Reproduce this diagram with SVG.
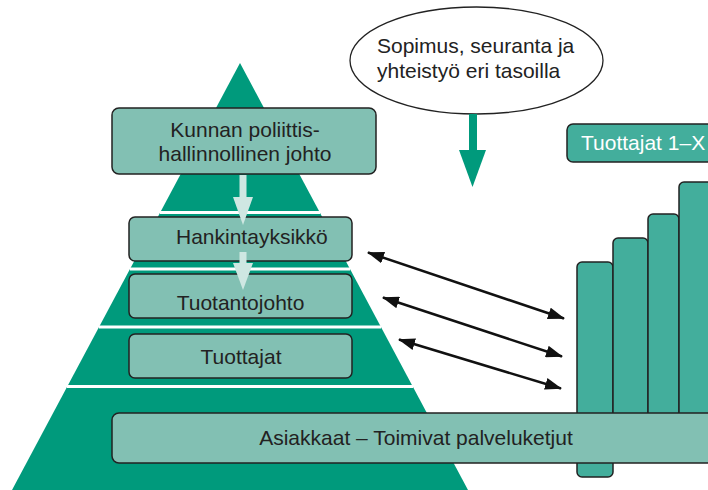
<svg xmlns="http://www.w3.org/2000/svg" width="708" height="490" viewBox="0 0 708 490">
<style>
.lt{fill:#82c0b3;stroke:#222;stroke-width:1.5}
.md{fill:#43ae9c;stroke:#222;stroke-width:1.5}
.t{font-family:"Liberation Sans",Arial,sans-serif;font-size:21px;fill:#222}
.sep{stroke:#fff;stroke-width:3}
.dbl{stroke:#111;stroke-width:2.5;fill:none;marker-start:url(#ah);marker-end:url(#ah)}
.pale{fill:#cfe7e2}
</style>
<defs>
<marker id="ah" viewBox="0 0 17 12" refX="16" refY="6" markerWidth="17" markerHeight="12" markerUnits="userSpaceOnUse" orient="auto-start-reverse">
<path d="M0,0 L17,6 L0,12 z" fill="#111"/>
</marker>
</defs>
<rect width="708" height="490" fill="#fff"/>
<g id="pyramid">
<polygon points="240,63 468,490 12,490" fill="#009a7c"/>
<line class="sep" x1="160" y1="212.5" x2="320" y2="212.5"/>
<line class="sep" x1="130" y1="269" x2="350" y2="269"/>
<line class="sep" x1="99" y1="327" x2="381" y2="327"/>
<line class="sep" x1="67" y1="386.5" x2="413" y2="386.5"/>
</g>
<g id="bars">
<rect class="md" x="577" y="262" width="36" height="215" rx="5"/>
<rect class="md" x="613" y="238" width="35" height="200" rx="5"/>
<rect class="md" x="648" y="214" width="31" height="220" rx="5"/>
<rect class="md" x="679" y="182" width="40" height="260" rx="5"/>
</g>
<g id="tuottajat-1x">
<rect class="md" x="567" y="124" width="150" height="38" rx="6"/>
<text class="t" x="581" y="150" style="fill:#fff">Tuottajat 1–X</text>
</g>
<g id="kunnan">
<rect class="lt" x="112" y="108" width="264" height="66" rx="7"/>
<text class="t" x="245" y="137" text-anchor="middle">Kunnan poliittis-</text>
<text class="t" x="245" y="161" text-anchor="middle">hallinnollinen johto</text>
</g>
<g id="hankinta">
<rect class="lt" x="129" y="217" width="223" height="44" rx="6"/>
<text class="t" x="176" y="244">Hankintayksikkö</text>
</g>
<g id="tuotantojohto">
<rect class="lt" x="129" y="274" width="223" height="44" rx="6"/>
<text class="t" x="240.5" y="310" text-anchor="middle">Tuotantojohto</text>
</g>
<g id="tuottajat">
<rect class="lt" x="129" y="334" width="223" height="44" rx="6"/>
<text class="t" x="241" y="364" text-anchor="middle">Tuottajat</text>
</g>
<g id="asiakkaat">
<rect class="lt" x="112" y="413" width="610" height="50" rx="7"/>
<text class="t" x="416" y="445" text-anchor="middle">Asiakkaat – Toimivat palveluketjut</text>
</g>
<g id="sopimus">
<ellipse cx="476.5" cy="60.5" rx="126.5" ry="53.5" fill="#fff" stroke="#222" stroke-width="1.3"/>
<text class="t" x="377" y="53">Sopimus, seuranta ja</text>
<text class="t" x="377" y="78">yhteistyö eri tasoilla</text>
</g>
<g id="connectors">
<rect class="pale" x="239.5" y="175" width="7" height="23"/>
<polygon class="pale" points="233,197 253,197 243,225"/>
<rect class="pale" x="239.5" y="252" width="7" height="12"/>
<polygon class="pale" points="233,263 253,263 243,290"/>
<rect x="469" y="114" width="8" height="37" fill="#009a7c"/>
<polygon points="459,150 486,150 472.5,187" fill="#009a7c"/>
<line class="dbl" x1="368" y1="252.5" x2="564" y2="318.5"/>
<line class="dbl" x1="383" y1="297.5" x2="562" y2="356.5"/>
<line class="dbl" x1="399" y1="339.5" x2="561" y2="388.5"/>
</g>
</svg>
